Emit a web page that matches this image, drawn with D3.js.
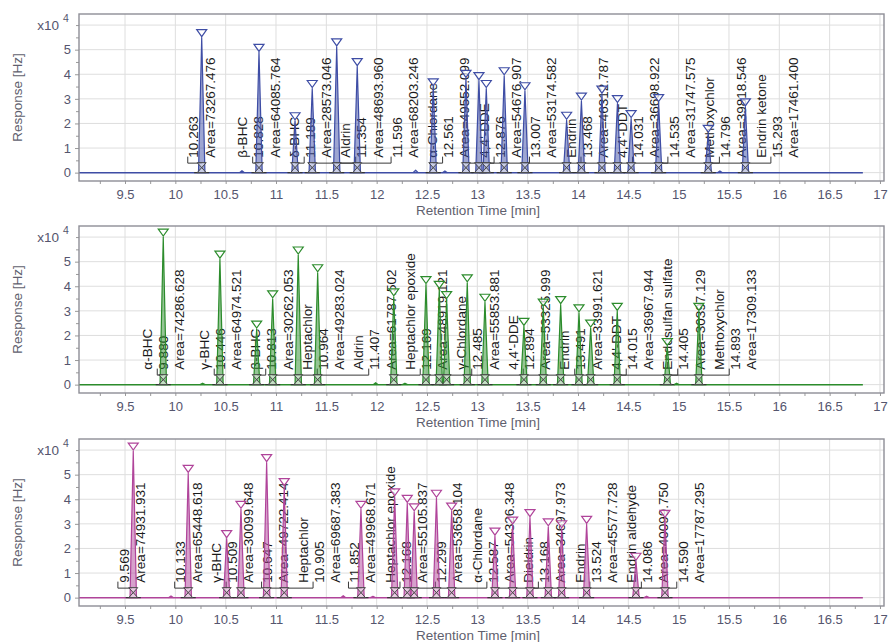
<!DOCTYPE html>
<html><head><meta charset="utf-8">
<script src="https://cdn.jsdelivr.net/npm/d3@7"></script>
<style>
body{margin:0;background:#fff;}
svg{display:block;font-family:"Liberation Sans",Arial,sans-serif;}
</style></head><body>
<svg id="c" width="889" height="642"></svg>
<script>
// ---------- shared axis data ----------
const xTicks = [9.5,10,10.5,11,11.5,12,12.5,13,13.5,14,14.5,15,15.5,16,16.5,17];
const yTicks = [0,1,2,3,4,5];
const yExponent = "4";
const xTitle = "Retention Time [min]";
const yTitle = "Response [Hz]";
const runStart = 9.043, runEnd = 16.83;

// ---------- panel 1 (blue) ----------
const peakRT1 = [10.262,10.662,10.831,11.189,11.360,11.603,11.807,12.387,12.562,12.678,12.887,13.016,13.089,13.267,13.473,13.887,14.034,14.238,14.392,14.528,14.801,15.294,15.41,15.663];
const peakH1  = [5.49,0.08,4.89,2.11,3.42,5.11,4.31,0.1,3.49,0.07,3.83,3.74,3.42,3.94,3.33,2.13,2.91,3.19,2.81,2.2,2.85,1.6,0.07,2.67];
const grpName1 = [null,"β-BHC","δ-BHC","Aldrin",null,"α-Chlordane","4,4'-DDE",null,"Endrin","4,4'-DDT",null,"Methoxychlor","Endrin ketone"];
const grpRT1   = [10.263,10.828,11.189,11.354,11.596,12.561,12.876,13.007,13.468,14.031,14.535,14.796,15.293];
const grpArea1 = [73267.476,64085.764,28573.046,48693.960,68203.246,49552.099,54676.907,53174.582,46312.787,36698.922,31747.575,39818.546,17461.400];

// ---------- panel 2 (green) ----------
const peakRT2 = [9.880,10.271,10.443,10.808,10.967,11.221,11.414,11.99,12.170,12.281,12.490,12.622,12.695,12.900,13.076,13.463,13.655,13.828,14.010,14.126,14.390,14.887,14.980,15.201];
const peakH2  = [6.0,0.06,5.1,2.26,3.49,5.27,4.55,0.08,3.57,0.06,4.07,3.87,3.46,4.14,3.35,2.37,3.15,3.25,2.92,2.3,2.98,1.55,0.06,2.98];
const grpName2 = ["α-BHC","γ-BHC","β-BHC","Heptachlor","Aldrin","Heptachlor epoxide","γ-Chlordane","4,4'-DDE","Endrin","4,4'-DDT","Endosulfan sulfate","Methoxychlor"];
const grpRT2   = [9.880,10.446,10.813,10.964,11.407,12.169,12.485,12.894,13.491,14.015,14.405,14.893];
const grpArea2 = [74286.628,64974.521,30262.053,49283.024,61787.502,48919.121,55853.881,53325.999,33991.621,36967.944,30397.129,17309.133];

// ---------- panel 3 (magenta) ----------
const peakRT3 = [9.582,9.957,10.128,10.510,10.652,10.907,11.082,11.668,11.844,11.963,12.179,12.304,12.373,12.594,12.745,13.175,13.351,13.523,13.705,13.838,14.086,14.576,14.682,14.864];
const peakH3  = [5.96,0.07,5.05,2.4,3.59,5.49,4.51,0.08,3.59,0.05,4.1,3.83,3.49,4.04,3.52,2.5,2.95,3.25,2.88,2.8,2.98,1.48,0.06,3.22];
const grpName3 = [null,null,"γ-BHC",null,"Heptachlor",null,"Heptachlor epoxide",null,"α-Chlordane","Dieldrin","Endrin","Endrin aldehyde",null];
const grpRT3   = [9.569,10.133,10.509,10.647,10.905,11.852,12.168,12.299,12.587,13.168,13.524,14.086,14.590];
const grpArea3 = [74931.931,65448.618,30099.648,49722.414,69687.383,49968.671,55105.837,53658.104,54326.348,34697.973,45577.728,40099.750,17787.295];

// ---------- layout / style ----------
const panels = [
  {rt:peakRT1,h:peakH1,names:grpName1,grt:grpRT1,area:grpArea1,color:"#3e4da5",top:14},
  {rt:peakRT2,h:peakH2,names:grpName2,grt:grpRT2,area:grpArea2,color:"#2c8c2c",top:226},
  {rt:peakRT3,h:peakH3,names:grpName3,grt:grpRT3,area:grpArea3,color:"#b0449a",top:439}
];
const L = 79, R = 884, PH = 167;
const fmt = d3.format(".3f");
const svg = d3.select("#c");
const axisCol = "#55556e";

panels.forEach(p => {
  const top = p.top, bot = top + PH;
  const x = d3.scaleLinear().domain([9.043, 17.04]).range([L, R]);
  const y = d3.scaleLinear().domain([-0.34, 6.45]).range([bot, top]);
  const g = svg.append("g");
  const base = y(0);

  // grid
  g.append("g").selectAll("line").data(xTicks).join("line")
    .attr("x1",d=>x(d)).attr("x2",d=>x(d)).attr("y1",top).attr("y2",bot)
    .attr("stroke","#dedede").attr("stroke-width",1);
  g.append("g").selectAll("line").data(y.ticks(7)).join("line")
    .attr("x1",L).attr("x2",R).attr("y1",d=>y(d)).attr("y2",d=>y(d))
    .attr("stroke","#dedede").attr("stroke-width",1);

  // axes
  const xa = g.append("g").attr("transform",`translate(0,${bot})`)
    .call(d3.axisBottom(x).tickValues(xTicks).tickFormat(d=>String(d)).tickSize(3).tickPadding(6));
  const xm = g.append("g").attr("transform",`translate(0,${bot})`)
    .call(d3.axisBottom(x).tickValues(d3.range(9.25,17,0.5)).tickFormat("").tickSize(3));
  const ya = g.append("g").attr("transform",`translate(${L},0)`)
    .call(d3.axisLeft(y).tickValues(yTicks).tickFormat(d=>String(d)).tickSize(4).tickPadding(4));
  const ym = g.append("g").attr("transform",`translate(${L},0)`)
    .call(d3.axisLeft(y).tickValues(d3.range(0.5,6.5,1).concat([6])).tickFormat("").tickSize(3));
  [xa,xm,ya,ym].forEach(a=>{
    a.select(".domain").remove();
    a.selectAll("line").attr("stroke","#999");
    a.selectAll("text").attr("fill",axisCol).attr("font-size",13)
      .attr("font-family","'Liberation Sans',Arial,sans-serif");
  });
  // exponent label
  g.append("text").attr("x",59).attr("y",y(6)).attr("dy","0.35em").attr("text-anchor","end")
    .attr("font-size",13.5).attr("fill",axisCol).text("x10");
  g.append("text").attr("x",63).attr("y",y(6)-3).attr("font-size",10.5).attr("fill",axisCol).text(yExponent);
  // titles
  g.append("text").attr("x",478).attr("y",bot+29).attr("dy","0.35em").attr("text-anchor","middle")
    .attr("font-size",13.5).attr("fill","#5f5f6e").text(xTitle);
  g.append("text").attr("transform",`translate(17,${(top+bot)/2}) rotate(-90)`).attr("dy","0.35em")
    .attr("text-anchor","middle").attr("font-size",13.5).attr("fill","#5f5f6e").text(yTitle);

  // label group layout (left-to-right packing)
  const within = 16.1, between = 19.3;
  let prevLast = -Infinity;
  const groups = p.grt.map((rt,i)=>{
    const cols = [];
    if (p.names[i]) cols.push({t:p.names[i]});
    cols.push({t:fmt(rt), isRT:true});
    cols.push({t:"Area="+fmt(p.area[i])});
    let x0 = x(rt) - (cols.length-1)/2*within;
    x0 = Math.max(x0, prevLast + between);
    cols.forEach((c,k)=>c.x = x0 + k*within);
    prevLast = cols[cols.length-1].x;
    return {rt, cols};
  });

  // leaders
  const lg = g.append("g").attr("fill","none").attr("stroke","#3a3a3a").attr("stroke-width",1);
  groups.forEach(gr=>{
    const rc = gr.cols.find(c=>c.isRT);
    const lx = rc.x - 6;
    lg.append("path").attr("d",`M${x(gr.rt)},${base-9.5}H${lx}V${base-16}`);
  });

  // label texts
  const tg = g.append("g").attr("font-size",13.5).attr("fill","#1a1a1a");
  groups.forEach(gr=>{
    gr.cols.forEach(c=>{
      tg.append("text").attr("transform",`translate(${c.x},${base-15}) rotate(-90)`)
        .attr("dy","0.35em").text(c.t);
    });
  });

  // signal baseline
  g.append("path").datum([[runStart,0],[runEnd,0]])
    .attr("d",d3.line().x(d=>x(d[0])).y(d=>y(d[1])))
    .attr("stroke",p.color).attr("stroke-width",1.5).attr("fill","none");

  const pk = p.rt.map((rt,i)=>({rt,h:p.h[i]}));
  // integration baseline segments
  g.append("g").selectAll("line").data(pk.filter(d=>d.h>0.2)).join("line")
    .attr("x1",d=>x(d.rt-0.075)).attr("x2",d=>x(d.rt+0.075))
    .attr("y1",base).attr("y2",base).attr("stroke","#333").attr("stroke-width",1.2);

  // peaks
  const line = d3.line().x(d=>x(d[0])).y(d=>y(d[1]));
  g.append("g").selectAll("path").data(pk).join("path")
    .attr("d",d=>{const w = d.h>0.2?0.032:0.025; return line([[d.rt-w,0],[d.rt,d.h],[d.rt+w,0]]);})
    .attr("fill",p.color).attr("fill-opacity",0.5)
    .attr("stroke",p.color).attr("stroke-width",1.2).attr("stroke-linejoin","round");

  const big = pk.filter(d=>d.h>0.2);
  // bowtie markers at baseline
  g.append("g").selectAll("path").data(big).join("path")
    .attr("transform",d=>`translate(${x(d.rt)},${base})`)
    .attr("d","M-4.5,-10L4.5,-10L-4.5,0L4.5,0Z")
    .attr("fill","rgba(255,255,255,0.45)").attr("stroke","#4a4a4a").attr("stroke-width",1);
  // apex triangles
  g.append("g").selectAll("path").data(big).join("path")
    .attr("transform",d=>`translate(${x(d.rt)},${y(d.h)-1})`)
    .attr("d","M-5,-7L5,-7L0,0Z")
    .attr("fill","rgba(255,255,255,0.7)").attr("stroke",p.color).attr("stroke-width",1.2);

  // frame
  g.append("rect").attr("x",L).attr("y",top).attr("width",R-L).attr("height",PH)
    .attr("fill","none").attr("stroke","#8e8e96").attr("stroke-width",1.4);
});
</script>
</body></html>
